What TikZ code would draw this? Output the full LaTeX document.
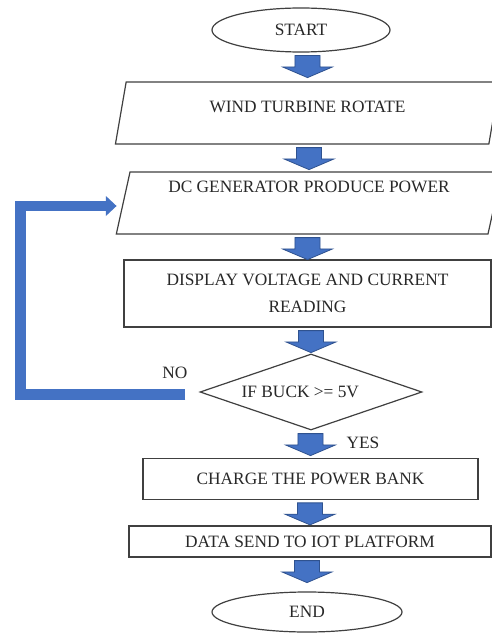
\documentclass[tikz,border=0pt]{standalone}
\usepackage{fontspec}
\setmainfont{Liberation Serif}
\usetikzlibrary{shapes.geometric,calc,arrows.meta}
\definecolor{flowblue}{RGB}{68,114,196}
\definecolor{flowdark}{RGB}{47,82,143}
\definecolor{boxline}{RGB}{64,64,64}
\definecolor{txtgray}{RGB}{40,40,40}
\newcommand\blockarrow[2]{%
\filldraw[fill=flowblue, draw=flowdark, line width=0.6pt] let \p1=($(#1.south)+(0,3)$), \p2=($(#2.north)$), \p3=($(#1.south)+(0,25)$) in
(\x2-9.4pt,\y1) -- (\x2+9.4pt,\y1) -- (\x2+9.4pt,\y3+8pt) -- (\x2+18.75pt,\y3+8pt) -- (\x2,\y3) -- (\x2-18.75pt,\y3+8pt) -- (\x2-9.4pt,\y3+8pt) -- cycle;}
\begin{document}
\begin{tikzpicture}[x=0.75pt, y=-0.75pt, font=\fontsize{13}{15.6}\selectfont, text=txtgray,
  box/.style={draw=boxline, line width=0.9pt, fill=white, inner sep=0pt},
  para/.style={box, trapezium, trapezium stretches=true, trapezium left angle=76, trapezium right angle=104, text height=8.5pt},
  band/.style={draw=flowblue, line width=8pt, line join=miter, -{Triangle[length=8pt,width=15pt,line width=0pt]}}]
\clip (0,0) rectangle (492,635);
\fill[white] (0,0) rectangle (492,635);
\node[box, ellipse, minimum width=133.5pt, minimum height=33pt] (st) at (301,30) {START};
\node[para, minimum width=288.75pt, minimum height=46.5pt, text depth=8.9pt] (wind) at (307.5,113) {WIND TURBINE ROTATE};
\node[para, minimum width=289.5pt, minimum height=46.5pt, text depth=23.9pt] (gen) at (309,203) {DC GENERATOR PRODUCE POWER};
\node[box, minimum width=275.25pt, minimum height=50.25pt, align=center] (disp) at (307.5,293.5) {DISPLAY VOLTAGE AND CURRENT\\[5pt]READING};
\node[box, diamond, aspect=2.9, minimum width=166.5pt, minimum height=57pt] (buck) at (311,392) {IF BUCK >= 5V\hspace*{16pt}};
\node[box, minimum width=251.25pt, minimum height=30.4pt] (chg) at (310.5,479) {CHARGE THE POWER BANK};
\node[box, minimum width=271.5pt, minimum height=23.25pt] (iot) at (310,541.5) {DATA SEND TO IOT PLATFORM};
\node[box, ellipse, minimum width=142.5pt, minimum height=30pt] (fin) at (307,612) {END};
\node (nolab) at (175,373) {NO};
\node (yeslab) at (363,443) {YES};
\blockarrow{st}{wind}
\blockarrow{wind}{gen}
\blockarrow{gen}{disp}
\blockarrow{disp}{buck}
\blockarrow{buck}{chg}
\blockarrow{chg}{iot}
\blockarrow{iot}{fin}
\coordinate (loop) at (20.5,0);
\coordinate (out) at ($(buck.west)+(-14,2.5)$);
\coordinate (back) at ($(gen.west)+(-6,3)$);
\draw[band] (out) -| (loop |- back) -- (back);
\end{tikzpicture}
\end{document}
